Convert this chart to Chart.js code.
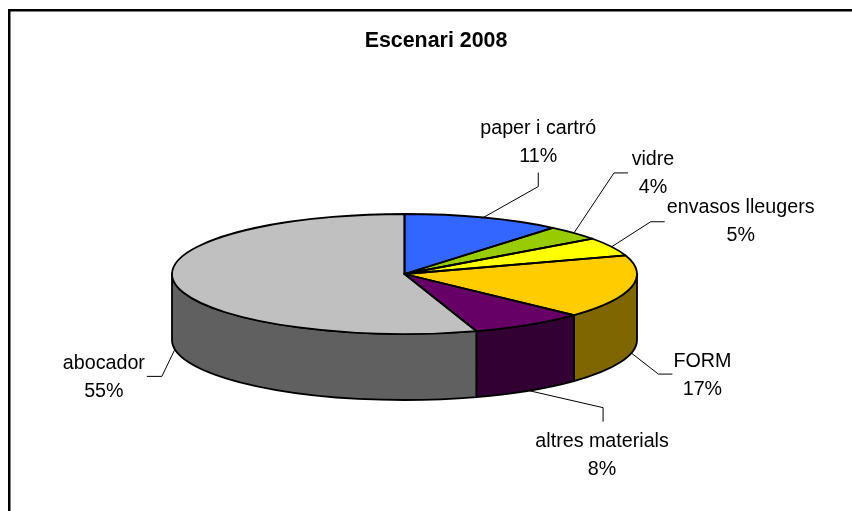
<!DOCTYPE html>
<html>
<head>
<meta charset="utf-8">
<style>html,body{margin:0;padding:0;background:#fff}canvas{display:block}</style>
<script src="https://cdn.jsdelivr.net/npm/chart.js@4/dist/chart.umd.min.js"></script>
</head>
<body>
<canvas id="c" width="852" height="511"></canvas>
<script>
const categories = ['paper i cartró', 'vidre', 'envasos lleugers', 'FORM', 'altres materials', 'abocador'];
const values = [11, 4, 5, 17, 8, 55];
const topColors = ['#3366FF', '#99CC00', '#FFFF00', '#FFCC00', '#660066', '#C0C0C0'];
const sideColors = ['#1A3380', '#4D6600', '#808000', '#806600', '#330033', '#606060'];
const chartTitle = 'Escenari 2008';

const FONT = '"Liberation Sans", Arial, sans-serif';
const PIE = {cx: 404.5, cy: 274, rx: 232.5, ry: 60, depth: 66};
// leader: elbow and end relative to the slice anchor; text: label centre relative to the leader end
const leaders = [
  {elbow: [55, -31], end: [55, -45], text: [0, -30], front: false},
  {elbow: [40, -60], end: [54, -60], text: [25, 1], front: false},
  {elbow: [39, -25], end: [53, -25], text: [76, 0], front: false},
  {elbow: [27, 21], end: [41, 21], text: [30, 1], front: true},
  {elbow: [74, 17], end: [74, 31], text: [-1, 34], front: true},
  {elbow: [-13, 27], end: [-28, 27], text: [-43, 1], front: true}
];

function ellipsePoint(a) {
  return [PIE.cx + PIE.rx * Math.cos(a), PIE.cy + PIE.ry * Math.sin(a)];
}

const pie3d = {
  id: 'pie3d',
  beforeDraw(chart) {
    const ctx = chart.ctx;
    ctx.save();
    ctx.fillStyle = '#fff';
    ctx.fillRect(0, 0, chart.width, chart.height);
    // only the top and left edges of the frame fall inside the picture
    ctx.strokeStyle = '#000';
    ctx.lineWidth = 2.5;
    ctx.beginPath();
    ctx.moveTo(9.25, chart.height);
    ctx.lineTo(9.25, 10.25);
    ctx.lineTo(chart.width, 10.25);
    ctx.stroke();
    ctx.restore();
  },
  beforeDatasetsDraw(chart) {
    const ctx = chart.ctx;
    const arcs = chart.getDatasetMeta(0).data;
    // walls of the front half
    ctx.save();
    ctx.lineJoin = 'round';
    ctx.strokeStyle = '#000';
    ctx.lineWidth = 1.8;
    arcs.forEach((arc, i) => {
      const p = arc.getProps(['startAngle', 'endAngle'], true);
      // arcs can run past 2*pi; test the front half in the revolution that overlaps
      [0, 2 * Math.PI].forEach(turn => {
        const a0 = Math.max(p.startAngle, turn);
        const a1 = Math.min(p.endAngle, turn + Math.PI);
        if (a1 <= a0) return;
        ctx.beginPath();
        ctx.ellipse(PIE.cx, PIE.cy, PIE.rx, PIE.ry, 0, a0, a1);
        ctx.ellipse(PIE.cx, PIE.cy + PIE.depth, PIE.rx, PIE.ry, 0, a1, a0, true);
        ctx.closePath();
        ctx.fillStyle = sideColors[i];
        ctx.fill();
        ctx.stroke();
      });
    });
    ctx.restore();
    // squash the library's own round pie into the top face
    const a = arcs[0];
    const R = a.outerRadius;
    ctx.save();
    ctx.translate(PIE.cx, PIE.cy);
    ctx.scale(PIE.rx / R, PIE.ry / R);
    ctx.translate(-a.x, -a.y);
  },
  afterDatasetsDraw(chart) {
    const ctx = chart.ctx;
    ctx.restore();
    const arcs = chart.getDatasetMeta(0).data;
    ctx.save();
    ctx.strokeStyle = '#000';
    ctx.lineJoin = 'round';
    ctx.lineWidth = 1.8;
    arcs.forEach(arc => {
      const p = arc.getProps(['startAngle', 'endAngle'], true);
      ctx.beginPath();
      ctx.moveTo(PIE.cx, PIE.cy);
      ctx.ellipse(PIE.cx, PIE.cy, PIE.rx, PIE.ry, 0, p.startAngle, p.endAngle);
      ctx.closePath();
      ctx.stroke();
    });
    // leader lines and labels
    ctx.font = '19.7px ' + FONT;
    ctx.textAlign = 'center';
    ctx.textBaseline = 'middle';
    const total = values.reduce((s, v) => s + v, 0);
    arcs.forEach((arc, i) => {
      const p = arc.getProps(['startAngle', 'endAngle'], true);
      const mid = (p.startAngle + p.endAngle) / 2;
      const l = leaders[i];
      const s = ellipsePoint(mid);
      const sx = s[0], sy = s[1] + (l.front ? PIE.depth : 0);
      ctx.strokeStyle = '#000';
      ctx.lineWidth = 1;
      ctx.beginPath();
      ctx.moveTo(sx, sy);
      ctx.lineTo(sx + l.elbow[0], sy + l.elbow[1]);
      ctx.lineTo(sx + l.end[0], sy + l.end[1]);
      ctx.stroke();
      const tx = sx + l.end[0] + l.text[0];
      const ty = sy + l.end[1] + l.text[1];
      ctx.fillStyle = '#000';
      ctx.fillText(categories[i], tx, ty - 14);
      ctx.fillText(Math.round(values[i] / total * 100) + '%', tx, ty + 14);
    });
    ctx.restore();
  }
};

new Chart(document.getElementById('c'), {
  type: 'pie',
  data: {
    labels: categories,
    datasets: [{
      data: values,
      backgroundColor: topColors,
      borderWidth: 0,
      clip: false
    }]
  },
  options: {
    responsive: false,
    animation: false,
    layout: {padding: {left: 20}},
    plugins: {
      legend: {display: false},
      tooltip: {enabled: false},
      title: {
        display: true,
        text: chartTitle,
        color: '#000',
        font: {family: FONT, size: 21.4, weight: 'bold'},
        padding: {top: 28, bottom: 10}
      }
    }
  },
  plugins: [pie3d]
});
</script>
</body>
</html>
